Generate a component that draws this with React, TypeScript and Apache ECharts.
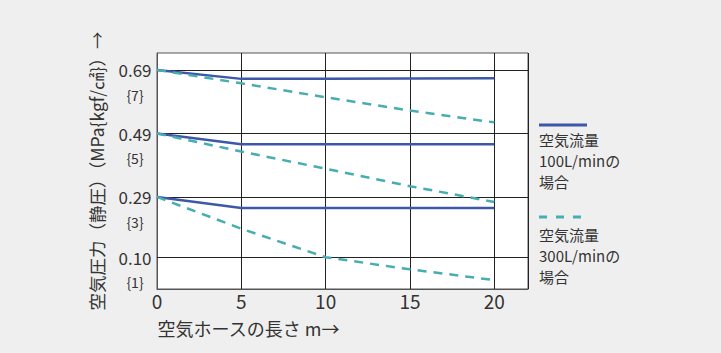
import React, { useEffect, useRef } from "react";
import * as echarts from "echarts";

const hoseLengths = [0, 5, 10, 15, 20];
const xTicks = [0, 5, 10, 15, 20];
const yTickValues = [0.1, 0.29, 0.49, 0.69];
const yTickLabels = ["0.10", "0.29", "0.49", "0.69"];
const kgfLabels = ["{1}", "{3}", "{5}", "{7}"];

// 100 L/min (solid)
const flow100_069 = [0.69, 0.662, 0.662, 0.663, 0.664];
const flow100_049 = [0.49, 0.456, 0.456, 0.456, 0.456];
const flow100_029 = [0.29, 0.255, 0.255, 0.255, 0.255];
// 300 L/min (dashed)
const flow300_069 = [0.69, 0.648, 0.604, 0.562, 0.525];
const flow300_049 = [0.49, 0.433, 0.379, 0.324, 0.274];
const flow300_029 = [0.29, 0.19, 0.1, 0.062, 0.028];

const legend100 = ["空気流量", "100L/minの", "場合"];
const legend300 = ["空気流量", "300L/minの", "場合"];

const BLUE = "#3d58a8";
const TEAL = "#48adb0";
const FONT = "'Noto Sans CJK JP', 'Noto Sans', sans-serif";
const Y_MAX = 0.7435;

export default function App() {
  const ref = useRef<HTMLDivElement>(null);
  useEffect(() => {
    if (!ref.current) return;
    const chart = echarts.init(ref.current, null, { renderer: "svg" });
    const pts = (vals: number[]) => hoseLengths.map((x, i) => [x, vals[i]]);
    const idxOf = (v: number) => {
      let idx = 0;
      yTickValues.forEach((t, i) => {
        if (Math.abs(t - v) < 1e-6) idx = i;
      });
      return idx;
    };
    const solid = (name: string, vals: number[], extra: any = {}) => ({
      type: "line",
      name,
      data: pts(vals),
      showSymbol: false,
      symbol: "none",
      lineStyle: { color: BLUE, width: 2.5, type: "solid" },
      itemStyle: { color: BLUE },
      z: 3,
      ...extra,
    });
    const dashed = (name: string, vals: number[]) => ({
      type: "line",
      name,
      data: pts(vals),
      showSymbol: false,
      symbol: "none",
      lineStyle: { color: TEAL, width: 2.5, type: [9, 7] },
      itemStyle: { color: TEAL },
      z: 3,
    });
    const legendText = (lines: string[], top: number) =>
      lines.map((t, i) => ({
        type: "text",
        left: 539,
        top: top + i * 21,
        style: { text: t, fill: "#333", font: `15px ${FONT}` },
      }));
    chart.setOption({
      animation: false,
      backgroundColor: "#efefef",
      textStyle: { fontFamily: FONT },
      grid: {
        left: 157,
        top: 53,
        width: 371,
        height: 236,
        show: true,
        backgroundColor: "#ffffff",
        borderColor: "#555",
        borderWidth: 1,
      },
      xAxis: {
        type: "value",
        min: 0,
        max: 22,
        interval: 5,
        name: "空気ホースの長さ m→",
        nameLocation: "middle",
        nameGap: 30,
        nameTextStyle: {
          fontSize: 18,
          lineHeight: 18,
          color: "#333",
          align: "center",
          verticalAlign: "top",
          padding: [0, 188, 0, 0],
          fontFamily: FONT,
        },
        axisLine: { show: true, lineStyle: { color: "#555", width: 1 } },
        axisTick: { show: false },
        splitLine: { show: true, lineStyle: { color: "#222", width: 1 } },
        axisLabel: {
          show: true,
          color: "#333",
          fontSize: 19,
          lineHeight: 19,
          margin: 2,
          fontFamily: FONT,
          showMaxLabel: false,
          formatter: (v: number) => (xTicks.includes(v) ? String(v) : ""),
        },
      },
      yAxis: [
        {
          type: "value",
          min: 0,
          max: Y_MAX,
          name: "空気圧力（静圧）（MPa{kgf/㎠}）→",
          nameLocation: "middle",
          nameRotate: 90,
          nameGap: 52,
          nameTextStyle: { fontSize: 17.5, color: "#333", fontFamily: FONT },
          axisLine: { show: true, lineStyle: { color: "#555", width: 1 } },
          axisTick: { show: false },
          splitLine: { show: false },
          axisLabel: {
            show: true,
            customValues: yTickValues,
            showMinLabel: true,
            showMaxLabel: true,
            align: "center",
            margin: 22,
            color: "#333",
            fontSize: 17,
            lineHeight: 22,
            padding: [6, 0, 0, 0],
            fontFamily: FONT,
            formatter: (v: number) => yTickLabels[idxOf(v)],
          },
        },
        {
          type: "value",
          min: 0,
          max: Y_MAX,
          position: "left",
          axisLine: { show: false },
          axisTick: { show: false },
          splitLine: { show: false },
          axisLabel: {
            show: true,
            customValues: yTickValues,
            showMinLabel: true,
            showMaxLabel: true,
            align: "center",
            verticalAlign: "top",
            margin: 22,
            color: "#333",
            fontSize: 14,
            lineHeight: 20,
            padding: [15, 0, 0, 0],
            fontFamily: FONT,
            formatter: (v: number) => kgfLabels[idxOf(v)],
          },
        },
      ],
      series: [
        solid("空気流量100L/minの場合 0.69", flow100_069, {
          markLine: {
            silent: true,
            symbol: ["none", "none"],
            label: { show: false },
            lineStyle: { color: "#222", width: 1, type: "solid" },
            z: 1,
            data: yTickValues.map((v) => ({ yAxis: v })),
          },
        }),
        solid("空気流量100L/minの場合 0.49", flow100_049),
        solid("空気流量100L/minの場合 0.29", flow100_029),
        dashed("空気流量300L/minの場合 0.69", flow300_069),
        dashed("空気流量300L/minの場合 0.49", flow300_049),
        dashed("空気流量300L/minの場合 0.29", flow300_029),
      ],
      graphic: [
        {
          type: "line",
          shape: { x1: 539, y1: 125, x2: 587, y2: 125 },
          style: { stroke: BLUE, lineWidth: 3 },
        },
        ...legendText(legend100, 132),
        {
          type: "line",
          shape: { x1: 539, y1: 217, x2: 583, y2: 217 },
          style: { stroke: TEAL, lineWidth: 3, lineDash: [8, 9] },
        },
        ...legendText(legend300, 227),
      ],
    });
    return () => chart.dispose();
  }, []);
  return (
    <div
      ref={ref}
      style={{ position: "fixed", left: 0, top: 0, width: 721, height: 353 }}
    />
  );
}
